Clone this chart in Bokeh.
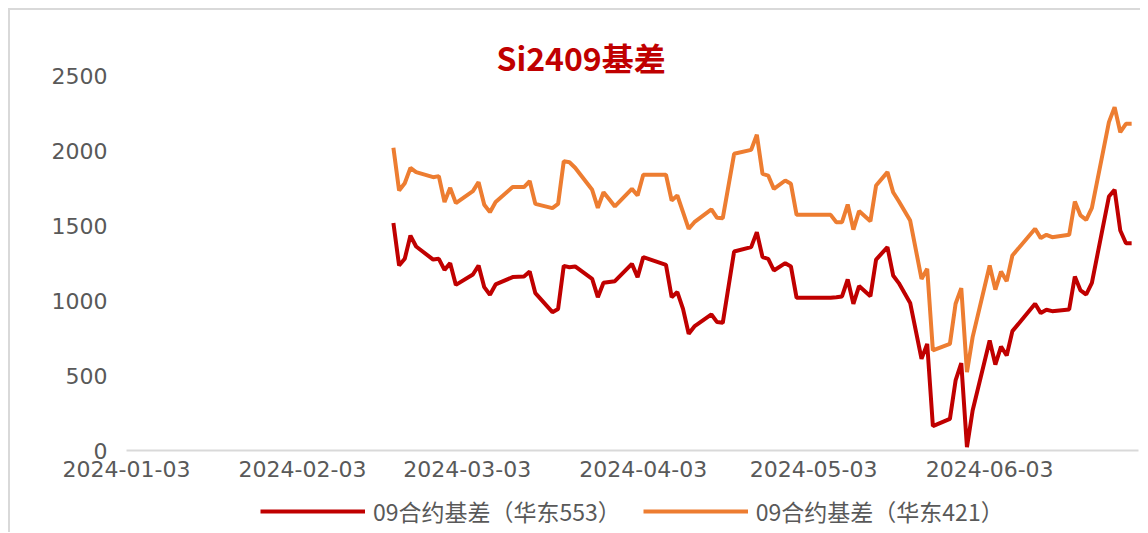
import pandas as pd
from bokeh.plotting import figure
from bokeh.layouts import column
from bokeh.models import (Legend, LegendItem, FixedTicker, DatetimeTickFormatter,
                          Range1d, ColumnDataSource)
from bokeh.embed import file_html
from bokeh.resources import INLINE

# ---------------- data ----------------
dates = [
    "2024-02-19", "2024-02-20", "2024-02-21", "2024-02-22", "2024-02-23",
    "2024-02-26", "2024-02-27", "2024-02-28", "2024-02-29",
    "2024-03-01", "2024-03-04", "2024-03-05", "2024-03-06", "2024-03-07", "2024-03-08",
    "2024-03-11", "2024-03-12", "2024-03-13", "2024-03-14", "2024-03-15",
    "2024-03-18", "2024-03-19", "2024-03-20", "2024-03-21", "2024-03-22",
    "2024-03-25", "2024-03-26", "2024-03-27", "2024-03-28", "2024-03-29",
    "2024-04-01", "2024-04-02", "2024-04-03", "2024-04-07", "2024-04-08",
    "2024-04-09", "2024-04-10", "2024-04-11", "2024-04-12",
    "2024-04-15", "2024-04-16", "2024-04-17", "2024-04-19",
    "2024-04-22", "2024-04-23", "2024-04-24", "2024-04-25", "2024-04-26",
    "2024-04-28", "2024-04-29", "2024-04-30",
    "2024-05-06", "2024-05-07", "2024-05-08", "2024-05-09", "2024-05-10", "2024-05-11",
    "2024-05-13", "2024-05-14", "2024-05-16", "2024-05-17", "2024-05-18",
    "2024-05-20", "2024-05-22", "2024-05-23", "2024-05-24",
    "2024-05-27", "2024-05-28", "2024-05-29", "2024-05-30", "2024-05-31",
    "2024-06-03", "2024-06-04", "2024-06-05", "2024-06-06", "2024-06-07",
    "2024-06-11", "2024-06-12", "2024-06-13", "2024-06-14",
    "2024-06-17", "2024-06-18", "2024-06-19", "2024-06-20", "2024-06-21",
    "2024-06-24", "2024-06-25", "2024-06-26", "2024-06-27", "2024-06-28",
]

basis_553 = [
    1516, 1233, 1278, 1433, 1360, 1273, 1278, 1204, 1249,
    1104, 1173, 1233, 1089, 1038, 1107, 1156, 1158, 1160, 1193, 1049,
    922, 944, 1231, 1222, 1227, 1144, 1022, 1118, 1124, 1129,
    1244, 1156, 1289, 1238, 1022, 1056, 944, 778, 827, 907, 856, 851, 1327,
    1356, 1456, 1289, 1278, 1200, 1249, 1227, 1018,
    1018, 1022, 1027, 1140, 978, 1096, 1029, 1273, 1356, 1167, 1116,
    984, 611, 711, 162, 211, 467, 582, 22, 267,
    733, 573, 693, 633, 796, 978, 916, 938, 929,
    940, 1160, 1067, 1040, 1118, 1693, 1738, 1467, 1382, 1382,
]

basis_421 = [
    2018, 1733, 1782, 1884, 1856, 1822, 1829, 1656, 1751,
    1649, 1729, 1789, 1638, 1589, 1656, 1756, 1756, 1756, 1796, 1644,
    1616, 1644, 1929, 1922, 1885, 1738, 1618, 1722, 1675, 1627,
    1744, 1700, 1838, 1838, 1667, 1700, 1589, 1478, 1522, 1607, 1551, 1549, 1978,
    2004, 2105, 1844, 1833, 1744, 1800, 1778, 1571,
    1571, 1522, 1522, 1640, 1473, 1596, 1529, 1767, 1856, 1722, 1662,
    1533, 1144, 1211, 667, 711, 978, 1082, 522, 756,
    1233, 1073, 1193, 1129, 1300, 1478, 1416, 1438, 1422,
    1438, 1660, 1567, 1538, 1618, 2189, 2289, 2122, 2178, 2178,
]

x_tick_labels = ["2024-01-03", "2024-02-03", "2024-03-03",
                 "2024-04-03", "2024-05-03", "2024-06-03"]
y_ticks = [0, 500, 1000, 1500, 2000, 2500]
title_text = "Si2409基差"
series_names = ["09合约基差（华东553）", "09合约基差（华东421）"]
series_colors = ["#C00000", "#ED7D31"]

# ---------------- main chart ----------------
src = ColumnDataSource(dict(x=pd.to_datetime(dates), a=basis_553, b=basis_421))

p = figure(width=1130, height=480, x_axis_type="datetime",
           x_range=Range1d(pd.Timestamp("2024-01-03"), pd.Timestamp("2024-06-29 05:00")),
           y_range=Range1d(0, 2500),
           output_backend="svg", toolbar_location=None,
           min_border_left=116, min_border_right=2, min_border_top=65, min_border_bottom=40,
           background_fill_color="white", border_fill_color="white")
p.outline_line_color = None
p.xgrid.visible = False
p.ygrid.visible = False

p.title.text = title_text
p.title.text_color = "#C00000"
p.title.text_font = "Noto Sans CJK SC"
p.title.text_font_size = "32px"
p.title.text_font_style = "bold"
p.title.align = "left"
p.title.offset = 370
p.title.standoff = -8

r1 = p.line("x", "a", source=src, line_color=series_colors[0], line_width=4)
r2 = p.line("x", "b", source=src, line_color=series_colors[1], line_width=4)

tick_ms = [pd.Timestamp(t).value // 10**6 for t in x_tick_labels]
fmt = "%Y-%m-%d"
p.xaxis.ticker = FixedTicker(ticks=tick_ms)
p.xaxis.formatter = DatetimeTickFormatter(milliseconds=fmt, seconds=fmt, minsec=fmt, minutes=fmt,
                                          hourmin=fmt, hours=fmt, days=fmt, months=fmt, years=fmt)
p.xaxis.axis_line_color = "#d9d9d9"
p.xaxis.axis_line_width = 2
p.xaxis.major_tick_line_color = None
p.xaxis.minor_tick_line_color = None
p.xaxis.major_tick_out = 0
p.xaxis.major_tick_in = 0
p.xaxis.minor_tick_out = 0
p.xaxis.minor_tick_in = 0
p.xaxis.axis_label_standoff = 0
p.xaxis.major_label_standoff = 10

p.yaxis.ticker = FixedTicker(ticks=y_ticks)
p.yaxis.axis_line_color = None
p.yaxis.major_tick_line_color = None
p.yaxis.minor_tick_line_color = None
p.yaxis.major_tick_out = 0
p.yaxis.major_tick_in = 0
p.yaxis.major_label_standoff = 19

for ax in (p.xaxis, p.yaxis):
    ax.major_label_text_font = "DejaVu Sans"
    ax.major_label_text_font_size = "22px"
    ax.major_label_text_color = "#595959"

# ---------------- legend strip ----------------
# The same series are drawn here, but the ranges hold none of them, so only the legend shows.
lg = figure(width=1130, height=42, x_range=Range1d(0, 1), y_range=Range1d(0, 1),
            output_backend="svg", toolbar_location=None,
            x_axis_location=None, y_axis_location=None,
            min_border_left=0, min_border_right=0, min_border_top=0, min_border_bottom=0,
            background_fill_color="white", border_fill_color="white")
lg.outline_line_color = None
lg.xgrid.visible = False
lg.ygrid.visible = False
k1 = lg.line("x", "a", source=src, line_color=series_colors[0], line_width=4)
k2 = lg.line("x", "b", source=src, line_color=series_colors[1], line_width=4)

legend = Legend(items=[LegendItem(label=series_names[0], renderers=[k1]),
                       LegendItem(label=series_names[1], renderers=[k2])],
                orientation="horizontal", location=(134, 4),
                border_line_color=None, background_fill_alpha=0,
                label_text_font="Noto Sans CJK SC", label_text_font_size="23px",
                label_text_color="#595959", glyph_width=105, glyph_height=20,
                spacing=22, label_standoff=8, padding=0, margin=0)
lg.add_layout(legend, "center")

layout = column(p, lg, spacing=0)
layout.styles = {"border-left": "2px solid #d9d9d9", "border-top": "2px solid #d9d9d9",
                 "margin-left": "8px", "margin-top": "8px"}

open("out.html", "w").write(file_html(layout, INLINE))
